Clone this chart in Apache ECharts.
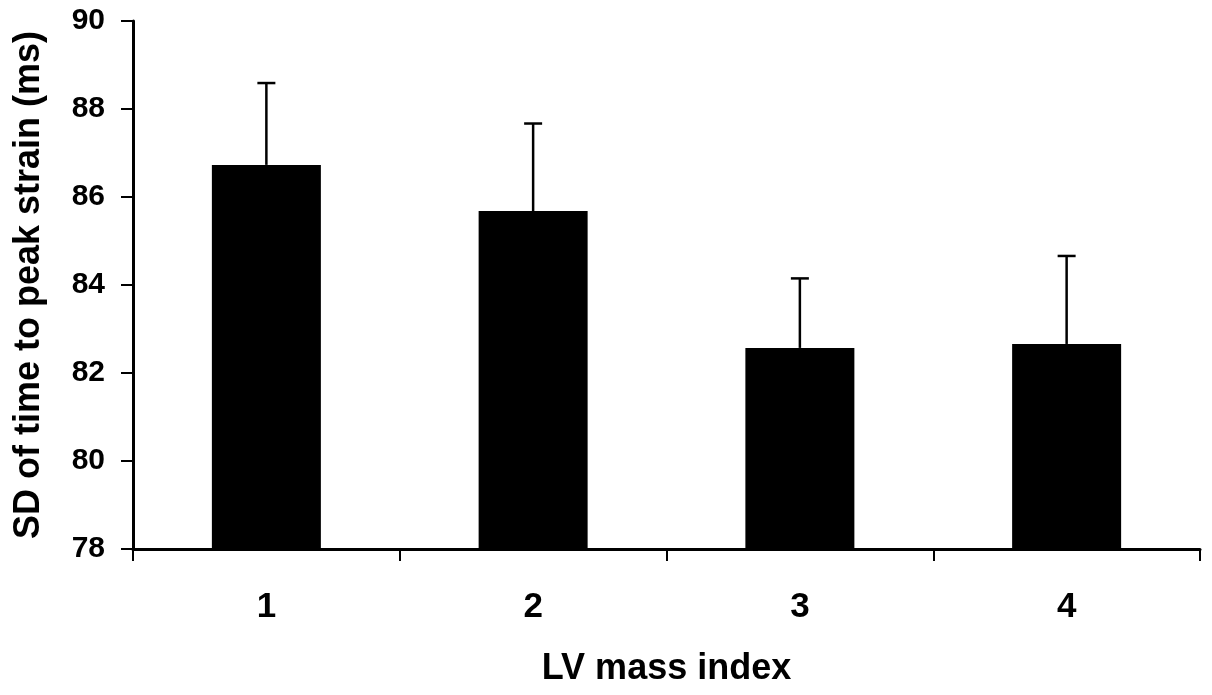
<!DOCTYPE html>
<html>
<head>
<meta charset="utf-8">
<title>SD of time to peak strain by LV mass index</title>
<script src="https://cdn.jsdelivr.net/npm/echarts@6/dist/echarts.min.js"></script>
<style>
html, body { margin: 0; padding: 0; background: #fff; }
#chart { width: 1212px; height: 695px; }
</style>
</head>
<body>
<div id="chart"></div>
<script>
// LV mass index groups
var categories = ['1', '2', '3', '4'];
// mean SD of time to peak strain (ms)
var means = [86.73, 85.68, 82.57, 82.66];
// upper end of error bar
var upper = [88.59, 87.67, 84.15, 84.66];
var yTicks = [78, 80, 82, 84, 86, 88, 90];

var font = '"Liberation Sans", Arial, Helvetica, sans-serif';

drawChart('chart');

function drawChart(id) {
	var chart = echarts.init(document.getElementById(id));
	var errData = categories.map(function (c, i) {
		return [i, means[i], upper[i]];
	});
	var option = {
		animation: false,
		backgroundColor: '#fff',
		grid: {
			left: 133,
			right: 12,
			top: 21,
			bottom: 146
		},
		xAxis: {
			type: 'category',
			data: categories,
			name: 'LV mass index',
			nameLocation: 'middle',
			nameGap: 102,
			nameTextStyle: {
				fontFamily: font,
				fontWeight: 'bold',
				fontSize: 36,
				color: '#000'
			},
			axisLine: { lineStyle: { color: '#000', width: 3 } },
			axisTick: { show: true, inside: false, length: 12, lineStyle: { color: '#000', width: 2 } },
			axisLabel: {
				margin: 41,
				fontFamily: font,
				fontWeight: 'bold',
				fontSize: 35,
				color: '#000'
			},
			splitLine: { show: false }
		},
		yAxis: {
			type: 'value',
			min: yTicks[0],
			max: yTicks[yTicks.length - 1],
			interval: 2,
			name: 'SD of time to peak strain (ms)',
			nameLocation: 'middle',
			nameGap: 86,
			nameTextStyle: {
				fontFamily: font,
				fontWeight: 'bold',
				fontSize: 36,
				color: '#000'
			},
			axisLine: { show: true, lineStyle: { color: '#000', width: 3 } },
			axisTick: { show: true, inside: false, length: 12, lineStyle: { color: '#000', width: 2 } },
			axisLabel: {
				margin: 28,
				fontFamily: font,
				fontWeight: 'bold',
				fontSize: 30,
				color: '#000'
			},
			splitLine: { show: false }
		},
		series: [{
			name: 'mean',
			type: 'bar',
			barWidth: 109,
			itemStyle: { color: '#000' },
			data: means,
			z: 2
		}, {
			name: 'error',
			type: 'custom',
			data: errData,
			z: 3,
			renderItem: function (params, api) {
				var idx = api.value(0);
				var lo = api.coord([idx, api.value(1)]);
				var hi = api.coord([idx, api.value(2)]);
				var half = 9;
				var style = { stroke: '#000', lineWidth: 2.5 };
				return {
					type: 'group',
					children: [{
						type: 'line',
						shape: { x1: lo[0], y1: lo[1], x2: hi[0], y2: hi[1] },
						style: style
					}, {
						type: 'line',
						shape: { x1: hi[0] - half, y1: hi[1], x2: hi[0] + half, y2: hi[1] },
						style: style
					}]
				};
			}
		}]
	};
	chart.setOption(option);
}
</script>
</body>
</html>
